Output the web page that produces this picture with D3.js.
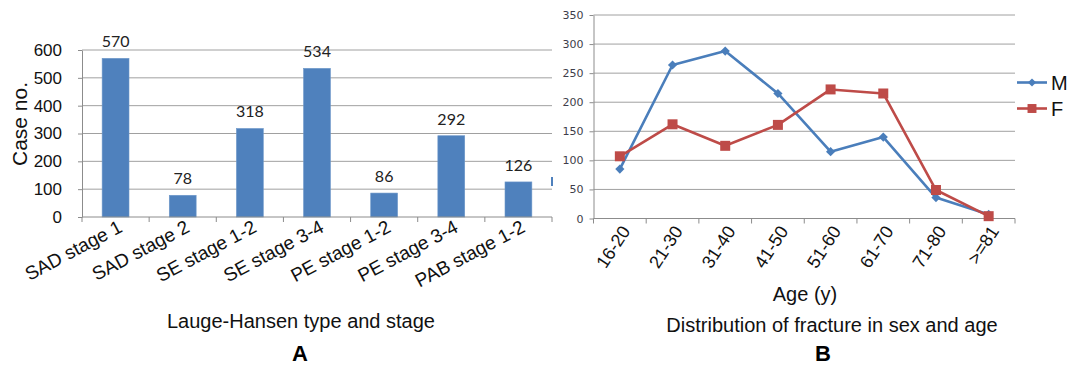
<!DOCTYPE html>
<html>
<head>
<meta charset="utf-8">
<script src="https://cdn.jsdelivr.net/npm/d3@7.9.0/dist/d3.min.js"></script>
<style>
  body { margin: 0; background: #fff; }
  svg { display: block; font-family: "Liberation Sans", Arial, sans-serif; }
</style>
</head>
<body>
<svg id="chart" width="1079" height="367"></svg>
<script>
// panel A data
const stageLabels = ['SAD stage 1', 'SAD stage 2', 'SE stage 1-2', 'SE stage 3-4', 'PE stage 1-2', 'PE stage 3-4', 'PAB stage 1-2'];
const stageCounts = [570, 78, 318, 534, 86, 292, 126];
const stageTicks = [0, 100, 200, 300, 400, 500, 600];

// panel B data
const ageGroups = ['16-20', '21-30', '31-40', '41-50', '51-60', '61-70', '71-80', '>=81'];
const maleCounts = [85, 264, 288, 215, 115, 140, 36, 7];
const femaleCounts = [107, 162, 125, 161, 222, 215, 49, 4];
const ageTicks = [0, 50, 100, 150, 200, 250, 300, 350];

const svg = d3.select('#chart');
const gridColor = '#a0a0a0';
const axisColor = '#8c8c8c';

// ---------- A: bar chart ----------
const xA = d3.scaleBand().domain(stageLabels).range([82, 552]).paddingInner(0.6).paddingOuter(0.3);
const yA = d3.scaleLinear().domain([0, 600]).range([217, 50]);
const gapA = (xA.step() - xA.bandwidth()) / 2;

const gA = svg.append('g');

gA.selectAll('line.grid')
  .data(stageTicks.slice(1))
  .join('line')
  .attr('x1', 82).attr('x2', 552)
  .attr('y1', d => yA(d)).attr('y2', d => yA(d))
  .attr('stroke', gridColor);

// y axis
const axA = gA.append('g')
  .attr('transform', 'translate(82,0)')
  .call(d3.axisLeft(yA).tickValues(stageTicks).tickSize(4).tickSizeOuter(0).tickPadding(16));
axA.select('.domain').attr('stroke', axisColor);
axA.selectAll('.tick line').attr('stroke', axisColor);
axA.selectAll('.tick text').attr('font-size', 17).attr('font-family', '"Liberation Sans", Arial').attr('fill', '#111');

// bars
gA.selectAll('rect.bar')
  .data(stageCounts)
  .join('rect')
  .attr('x', (d, i) => xA(stageLabels[i]))
  .attr('width', xA.bandwidth())
  .attr('y', d => yA(d))
  .attr('height', d => yA(0) - yA(d))
  .attr('fill', '#4f81bd')
  .attr('stroke', '#6d97c9')
  .attr('stroke-width', 0.6);

// data labels
gA.selectAll('text.val')
  .data(stageCounts)
  .join('text')
  .attr('x', (d, i) => xA(stageLabels[i]) + xA.bandwidth() / 2)
  .attr('y', d => yA(d) - 11)
  .attr('text-anchor', 'middle')
  .attr('font-family', 'Lato, "Open Sans", sans-serif')
  .attr('font-size', 16)
  .attr('fill', '#222')
  .text(d => d);

// x axis
gA.append('line')
  .attr('x1', 82).attr('x2', 552).attr('y1', yA(0)).attr('y2', yA(0))
  .attr('stroke', axisColor);
const boundsA = stageLabels.map(d => xA(d) - gapA).concat([552]);
gA.selectAll('line.xt')
  .data(boundsA)
  .join('line')
  .attr('x1', d => d).attr('x2', d => d)
  .attr('y1', yA(0)).attr('y2', yA(0) + 5)
  .attr('stroke', axisColor);

gA.selectAll('text.cat')
  .data(stageLabels)
  .join('text')
  .attr('transform', d => `translate(${xA(d) + xA.bandwidth() / 2 + 8},231) rotate(-28)`)
  .attr('text-anchor', 'end')
  .attr('font-size', 19)
  .attr('fill', '#111')
  .text(d => d);

// clipped legend swatch at the right edge
gA.append('rect').attr('x', 551).attr('y', 177).attr('width', 2).attr('height', 9).attr('fill', '#4f81bd');

gA.append('text')
  .attr('transform', 'translate(27,124) rotate(-90)')
  .attr('text-anchor', 'middle')
  .attr('font-size', 21)
  .attr('fill', '#111')
  .text('Case no.');

gA.append('text')
  .attr('x', 301).attr('y', 328)
  .attr('text-anchor', 'middle')
  .attr('font-size', 20)
  .attr('fill', '#111')
  .text('Lauge-Hansen type and stage');

gA.append('text')
  .attr('x', 300).attr('y', 361)
  .attr('text-anchor', 'middle')
  .attr('font-size', 22)
  .attr('font-weight', 'bold')
  .attr('fill', '#000')
  .text('A');

// ---------- B: line chart ----------
const xB = d3.scalePoint().domain(ageGroups).range([593.5, 1015]).padding(0.5);
const yB = d3.scaleLinear().domain([0, 350]).range([218.5, 15]);
const stepB = xB.step();

const gB = svg.append('g');

gB.selectAll('line.grid')
  .data(ageTicks.slice(1))
  .join('line')
  .attr('x1', 593.5).attr('x2', 1015)
  .attr('y1', d => yB(d)).attr('y2', d => yB(d))
  .attr('stroke', gridColor);

const axB = gB.append('g')
  .attr('transform', 'translate(593.5,0)')
  .call(d3.axisLeft(yB).tickValues(ageTicks).tickSize(4).tickSizeOuter(0).tickPadding(6));
axB.select('.domain').attr('stroke', axisColor);
axB.selectAll('.tick line').attr('stroke', axisColor);
axB.selectAll('.tick text').attr('font-size', 11).attr('font-family', '"DejaVu Sans", Verdana').attr('fill', '#3d3d4a');

gB.append('line')
  .attr('x1', 593.5).attr('x2', 1015).attr('y1', yB(0)).attr('y2', yB(0))
  .attr('stroke', axisColor);
const boundsB = ageGroups.map(d => xB(d) - stepB / 2).concat([1015]);
gB.selectAll('line.xt')
  .data(boundsB)
  .join('line')
  .attr('x1', d => d).attr('x2', d => d)
  .attr('y1', yB(0)).attr('y2', yB(0) + 5)
  .attr('stroke', axisColor);

gB.selectAll('text.cat')
  .data(ageGroups)
  .join('text')
  .attr('transform', d => `translate(${xB(d) + 11},231) rotate(-57)`)
  .attr('text-anchor', 'end')
  .attr('font-size', 18)
  .attr('fill', '#111')
  .text(d => d);

const series = [
  { name: 'M', values: maleCounts, color: '#4a7ebb', shape: 'diamond' },
  { name: 'F', values: femaleCounts, color: '#be4b48', shape: 'square' }
];

const line = d3.line()
  .x((d, i) => xB(ageGroups[i]))
  .y(d => yB(d));

function marker(sel, s, scale) {
  if (s.shape === 'diamond') {
    sel.attr('d', d3.symbol().type(d3.symbolSquare).size(42 * scale)());
  } else {
    sel.attr('d', d3.symbol().type(d3.symbolSquare).size(100 * scale)());
  }
  sel.attr('fill', s.color);
}

series.forEach(s => {
  gB.append('path')
    .datum(s.values)
    .attr('d', line)
    .attr('fill', 'none')
    .attr('stroke', s.color)
    .attr('stroke-width', 2.6)
    .attr('stroke-linejoin', 'round');
});

series.forEach(s => {
  gB.selectAll(null)
    .data(s.values)
    .join('path')
    .attr('transform', (d, i) => `translate(${xB(ageGroups[i])},${yB(d)})` + (s.shape === 'diamond' ? ' rotate(45)' : ''))
    .call(sel => marker(sel, s, 1));
});

// legend
series.forEach((s, i) => {
  const ly = 82.5 + i * 26;
  gB.append('line')
    .attr('x1', 1017).attr('x2', 1047).attr('y1', ly).attr('y2', ly)
    .attr('stroke', s.color).attr('stroke-width', 2.6);
  gB.append('path')
    .attr('transform', `translate(1032,${ly})` + (s.shape === 'diamond' ? ' rotate(45)' : ''))
    .call(sel => marker(sel, s, 0.8));
  gB.append('text')
    .attr('x', 1051).attr('y', ly + 7)
    .attr('font-size', 20)
    .attr('fill', '#111')
    .text(s.name);
});

gB.append('text')
  .attr('x', 805).attr('y', 301)
  .attr('text-anchor', 'middle')
  .attr('font-size', 20)
  .attr('fill', '#111')
  .text('Age (y)');

gB.append('text')
  .attr('x', 832).attr('y', 332)
  .attr('text-anchor', 'middle')
  .attr('font-size', 20)
  .attr('fill', '#111')
  .text('Distribution of fracture in sex and age');

gB.append('text')
  .attr('x', 823).attr('y', 361)
  .attr('text-anchor', 'middle')
  .attr('font-size', 22)
  .attr('font-weight', 'bold')
  .attr('fill', '#000')
  .text('B');
</script>
</body>
</html>
